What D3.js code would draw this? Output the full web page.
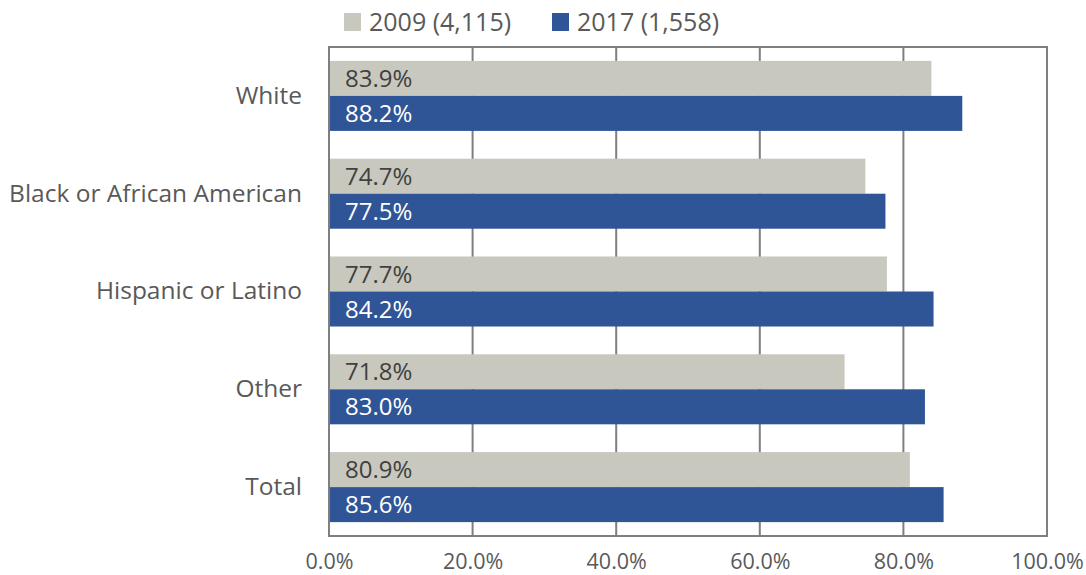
<!DOCTYPE html>
<html>
<head>
<meta charset="utf-8">
<script src="https://cdn.jsdelivr.net/npm/d3@7"></script>
<style>
  body { margin: 0; background: #fff; }
  text { font-family: "Open Sans", "Noto Sans", sans-serif; }
</style>
</head>
<body>
<svg id="chart" width="1086" height="575"></svg>
<script>
// data
var categories = ["White", "Black or African American", "Hispanic or Latino", "Other", "Total"];
var seriesNames = ["2009 (4,115)", "2017 (1,558)"];
var values2009 = [83.9, 74.7, 77.7, 71.8, 80.9];
var values2017 = [88.2, 77.5, 84.2, 83.0, 85.6];
var tickValues = [0, 20, 40, 60, 80, 100];

var colors = ["#c8c8bf", "#2f5597"];
var labelColors = ["#404040", "#ffffff"];

var svg = d3.select("#chart");
var margin = {top: 47, right: 39, bottom: 39, left: 329};
var W = 1086, H = 575;

var x = d3.scaleLinear().domain([0, 100]).range([margin.left, W - margin.right]);
var y = d3.scaleBand().domain(categories).range([margin.top, H - margin.bottom]).paddingInner(0.284).paddingOuter(0.142);
var ySub = d3.scaleBand().domain([0, 1]).range([0, y.bandwidth()]);

// gridlines
svg.append("g")
  .selectAll("line")
  .data(tickValues.slice(1, -1))
  .join("line")
  .attr("x1", function (d) { return x(d); })
  .attr("x2", function (d) { return x(d); })
  .attr("y1", margin.top)
  .attr("y2", H - margin.bottom)
  .attr("stroke", "#7f7f7f")
  .attr("stroke-width", 2);

// bars
var series = [values2009, values2017];
series.forEach(function (vals, s) {
  var g = svg.append("g");
  g.selectAll("rect")
    .data(vals)
    .join("rect")
    .attr("x", x(0))
    .attr("y", function (d, i) { return y(categories[i]) + ySub(s); })
    .attr("width", function (d) { return x(d) - x(0); })
    .attr("height", ySub.bandwidth())
    .attr("fill", colors[s]);
  g.selectAll("text")
    .data(vals)
    .join("text")
    .attr("x", x(0) + 16)
    .attr("y", function (d, i) { return y(categories[i]) + ySub(s) + ySub.bandwidth() / 2; })
    .attr("dy", "0.36em")
    .attr("font-size", 24)
    .attr("fill", labelColors[s])
    .text(function (d) { return d.toFixed(1) + "%"; });
});

// plot border
svg.append("rect")
  .attr("x", margin.left)
  .attr("y", margin.top)
  .attr("width", x(100) - x(0))
  .attr("height", H - margin.bottom - margin.top)
  .attr("fill", "none")
  .attr("stroke", "#7f7f7f")
  .attr("stroke-width", 2);

// x axis labels
var xAxis = d3.axisBottom(x).tickValues(tickValues).tickSize(0).tickPadding(18)
  .tickFormat(function (d) { return d.toFixed(1) + "%"; });
var gx = svg.append("g").attr("transform", "translate(0," + (H - margin.bottom) + ")").call(xAxis);
gx.select(".domain").remove();
gx.selectAll("text").attr("font-size", 21.5).attr("fill", "#595959").style("font-family", "'Open Sans', sans-serif");

// category labels
var yAxis = d3.axisLeft(y).tickSize(0).tickPadding(27);
var gy = svg.append("g").attr("transform", "translate(" + margin.left + ",0)").call(yAxis);
gy.select(".domain").remove();
gy.selectAll("text").attr("font-size", 24.5).attr("fill", "#595959").style("font-family", "'Open Sans', sans-serif");

// legend
var legendX = [344, 552];
var legend = svg.append("g");
seriesNames.forEach(function (name, s) {
  legend.append("rect")
    .attr("x", legendX[s]).attr("y", 13)
    .attr("width", 17).attr("height", 18)
    .attr("fill", colors[s]);
  legend.append("text")
    .attr("x", legendX[s] + 25).attr("y", 22)
    .attr("dy", "0.36em")
    .attr("font-size", 25)
    .attr("fill", "#595959")
    .text(name);
});
</script>
</body>
</html>
